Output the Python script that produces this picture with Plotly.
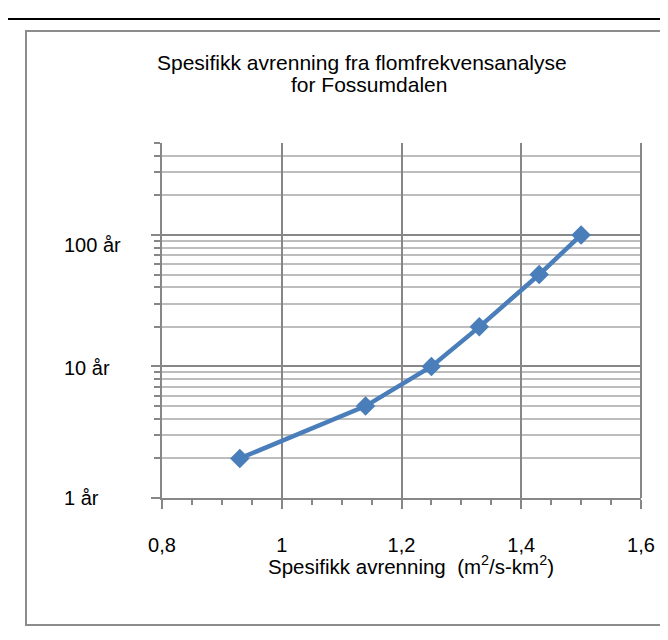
import math
import plotly.graph_objects as go

# ---- data ----
spec_runoff = [0.93, 1.14, 1.25, 1.33, 1.43, 1.50]
return_period = [2, 5, 10, 20, 50, 100]
y_label_vals = [1, 10, 100]
y_label_text = ["1 år", "10 år", "100 år"]
x_tick_vals = [0.8, 1.0, 1.2, 1.4, 1.6]
title_lines = ["Spesifikk avrenning fra flomfrekvensanalyse", "for Fossumdalen"]
x_title = "Spesifikk avrenning  (m<sup>2</sup>/s-km<sup>2</sup>)"
y_minor_vals = [2, 3, 4, 5, 6, 7, 8, 9, 20, 30, 40, 50, 60, 70, 80, 90, 200, 300, 400, 500]

FONT = "Liberation Sans, Arial, sans-serif"
W, H = 668, 640
L, R, T, B = 154, 633, 135, 490
pw, ph = R - L, B - T

def px_x(p):
    return (p - L) / pw

def px_y(p):
    return (B - p) / ph

MAJOR = "#878787"
MINOR = "#bdbdbd"
BLUE = "#4a7ebb"

fig = go.Figure()
fig.add_trace(go.Scatter(
    x=spec_runoff, y=return_period, mode="lines+markers",
    line=dict(color=BLUE, width=4.5),
    marker=dict(symbol="diamond", size=15, color=BLUE),
    showlegend=False, cliponaxis=False,
))

fig.update_layout(
    width=W, height=H,
    margin=dict(l=L, r=W - R, t=T, b=H - B, pad=0),
    paper_bgcolor="white", plot_bgcolor="white",
    separators=", ",
    font=dict(family=FONT, size=20, color="black"),
    xaxis=dict(
        range=[0.8, 1.6], tickvals=x_tick_vals,
        showgrid=True, gridcolor=MAJOR, gridwidth=1.5,
        showline=True, linecolor=MAJOR, linewidth=2,
        ticks="outside", ticklen=9, tickwidth=1.5, tickcolor=MAJOR,
        ticklabelstandoff=19,
        tickfont=dict(family=FONT, size=20, color="black"),
        minor=dict(dtick=0.05, ticks="outside", ticklen=5, tickwidth=1.5, tickcolor=MAJOR, showgrid=False),
        zeroline=False, mirror=False,
    ),
    yaxis=dict(
        type="log", range=[0, 2.69897],
        tickvals=y_label_vals, showticklabels=False,
        showgrid=True, gridcolor=MAJOR, gridwidth=2,
        showline=True, linecolor=MAJOR, linewidth=2,
        ticks="outside", ticklen=9, tickwidth=1.5, tickcolor=MAJOR,
        minor=dict(tickvals=y_minor_vals, ticks="outside", ticklen=6, tickwidth=1.5,
                   tickcolor=MAJOR, showgrid=True, gridcolor=MINOR, gridwidth=2),
        zeroline=False,
    ),
    shapes=[
        dict(type="line", xref="paper", yref="paper", x0=px_x(-5), x1=px_x(W + 5),
             y0=px_y(11), y1=px_y(11), line=dict(color="black", width=2)),
        dict(type="rect", xref="paper", yref="paper", x0=px_x(18), x1=px_x(W + 20),
             y0=px_y(617), y1=px_y(23), line=dict(color="#8c8c8c", width=2), layer="below"),
        dict(type="line", xref="paper", yref="paper", x0=px_x(R), x1=px_x(R),
             y0=0, y1=1, line=dict(color=MAJOR, width=2)),
    ],
)

ann = []
title_y = [54, 76]
title_x = [354, 361]
for txt, yy, xx in zip(title_lines, title_y, title_x):
    ann.append(dict(text=txt, xref="paper", yref="paper", x=px_x(xx), y=px_y(yy),
                    xanchor="center", yanchor="middle", showarrow=False,
                    font=dict(family=FONT, size=21, color="black")))
label_shift = [0, -2, -10]
for v, t, s in zip(y_label_vals, y_label_text, label_shift):
    ann.append(dict(text=t, xref="paper", yref="y", x=px_x(54), y=math.log10(v),
                    xanchor="left", yanchor="middle", yshift=s, showarrow=False,
                    font=dict(family=FONT, size=20, color="black")))
ann.append(dict(text=x_title, xref="paper", yref="paper", x=px_x(403), y=px_y(557),
                xanchor="center", yanchor="middle", showarrow=False,
                font=dict(family=FONT, size=20.5, color="black")))
fig.update_layout(annotations=ann)

fig.write_html("out.html")
